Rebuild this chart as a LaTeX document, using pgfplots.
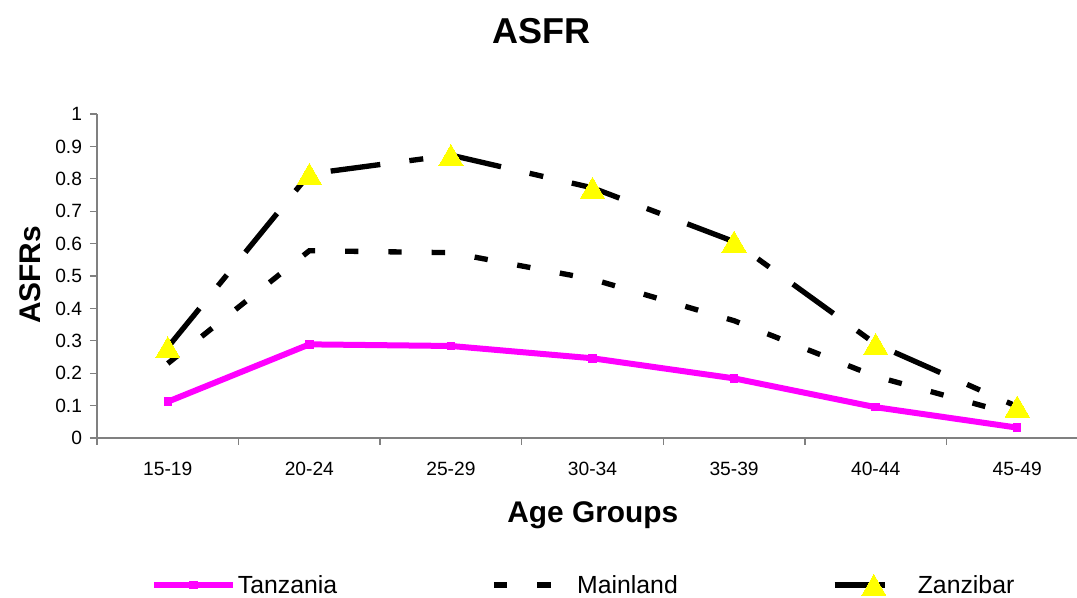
\documentclass[border=0pt]{standalone}
\usepackage{fontspec}
\setmainfont{Liberation Sans}
\usepackage{pgfplots}
\pgfplotsset{compat=1.18}

\definecolor{tzmag}{RGB}{255,0,255}
\definecolor{znyel}{RGB}{255,255,0}
\definecolor{axgray}{RGB}{128,128,128}

\begin{document}
\begin{tikzpicture}
\useasboundingbox (-72.75pt,-120pt) rectangle (735pt,328.5pt);
\begin{axis}[
  at={(0,0)}, anchor=south west,
  scale only axis, width=735pt, height=243pt,
  xmin=-0.5, xmax=6.422, ymin=0, ymax=1,
  clip=false,
  axis lines*=left,
  axis line style={axgray, line width=1pt},
  tick align=outside,
  major tick length=5.25pt,
  minor tick length=5.25pt,
  tick style={axgray, line width=1pt},
  xtick={0,1,2,3,4,5,6},
  xticklabels={15-19,20-24,25-29,30-34,35-39,40-44,45-49},
  major x tick style={draw=none},
  minor xtick={-0.5,0.5,1.5,2.5,3.5,4.5,5.5},
  ytick={0,0.1,0.2,0.3,0.4,0.5,0.6,0.7,0.8,0.9,1},
  yticklabels={0,0.1,0.2,0.3,0.4,0.5,0.6,0.7,0.8,0.9,1},
  ticklabel style={font=\fontsize{14.4}{16}\selectfont, text=black},
  xticklabel style={yshift=-9.5pt},
  yticklabel style={xshift=-2.5pt},
  title={ASFR},
  title style={font=\bfseries\fontsize{27}{31}\selectfont, at={(axis description cs:0.4535,1.2296)}, anchor=center},
  xlabel={Age Groups},
  xlabel style={font=\bfseries\fontsize{22.4}{26}\selectfont, at={(axis description cs:0.506,-0.237)}, anchor=center},
  ylabel={ASFRs},
  ylabel style={font=\bfseries\fontsize{22.4}{26}\selectfont, at={(axis description cs:-0.0684,0.503)}, anchor=center},
  legend columns=3,
  legend style={at={(axis description cs:0.0551,-0.4537)}, anchor=west,
    draw=none, fill=none, inner sep=0pt,
    font=\fontsize{18.6}{22}\selectfont,
    nodes={inner xsep=1.5pt, inner ysep=0pt},
    /tikz/every even column/.append style={column sep=114pt}},
  legend image code/.code={%
    \draw[mark repeat=2, mark phase=2, #1] plot coordinates {(0pt,0pt) (29.5pt,0pt) (59pt,0pt)};},
]
% Tanzania
\addplot[tzmag, line width=4.5pt, mark=square*, mark size=2.8pt,
  mark options={solid, line width=0pt}]
  coordinates {(0,0.112) (1,0.289) (2,0.284) (3,0.246) (4,0.184) (5,0.095) (6,0.032)};
\addlegendentry{Tanzania}
% Mainland
\addplot[black, line width=4pt, dash pattern=on 10pt off 22.5pt]
  coordinates {(0,0.23) (1,0.578) (2,0.572) (3,0.49) (4,0.362) (5,0.19) (6,0.07)};
\addlegendentry{Mainland}
% Zanzibar
\addplot[black, line width=4pt, dash pattern=on 37.5pt off 22pt on 10.5pt off 22pt,
  mark=triangle*, mark size=10.5pt,
  mark options={solid, fill=znyel, draw=znyel, line width=0pt, yshift=-2.6pt}]
  coordinates {(0,0.28) (1,0.815) (2,0.873) (3,0.772) (4,0.606) (5,0.29) (6,0.097)};
\addlegendentry{Zanzibar}
\end{axis}
\end{tikzpicture}
\end{document}
